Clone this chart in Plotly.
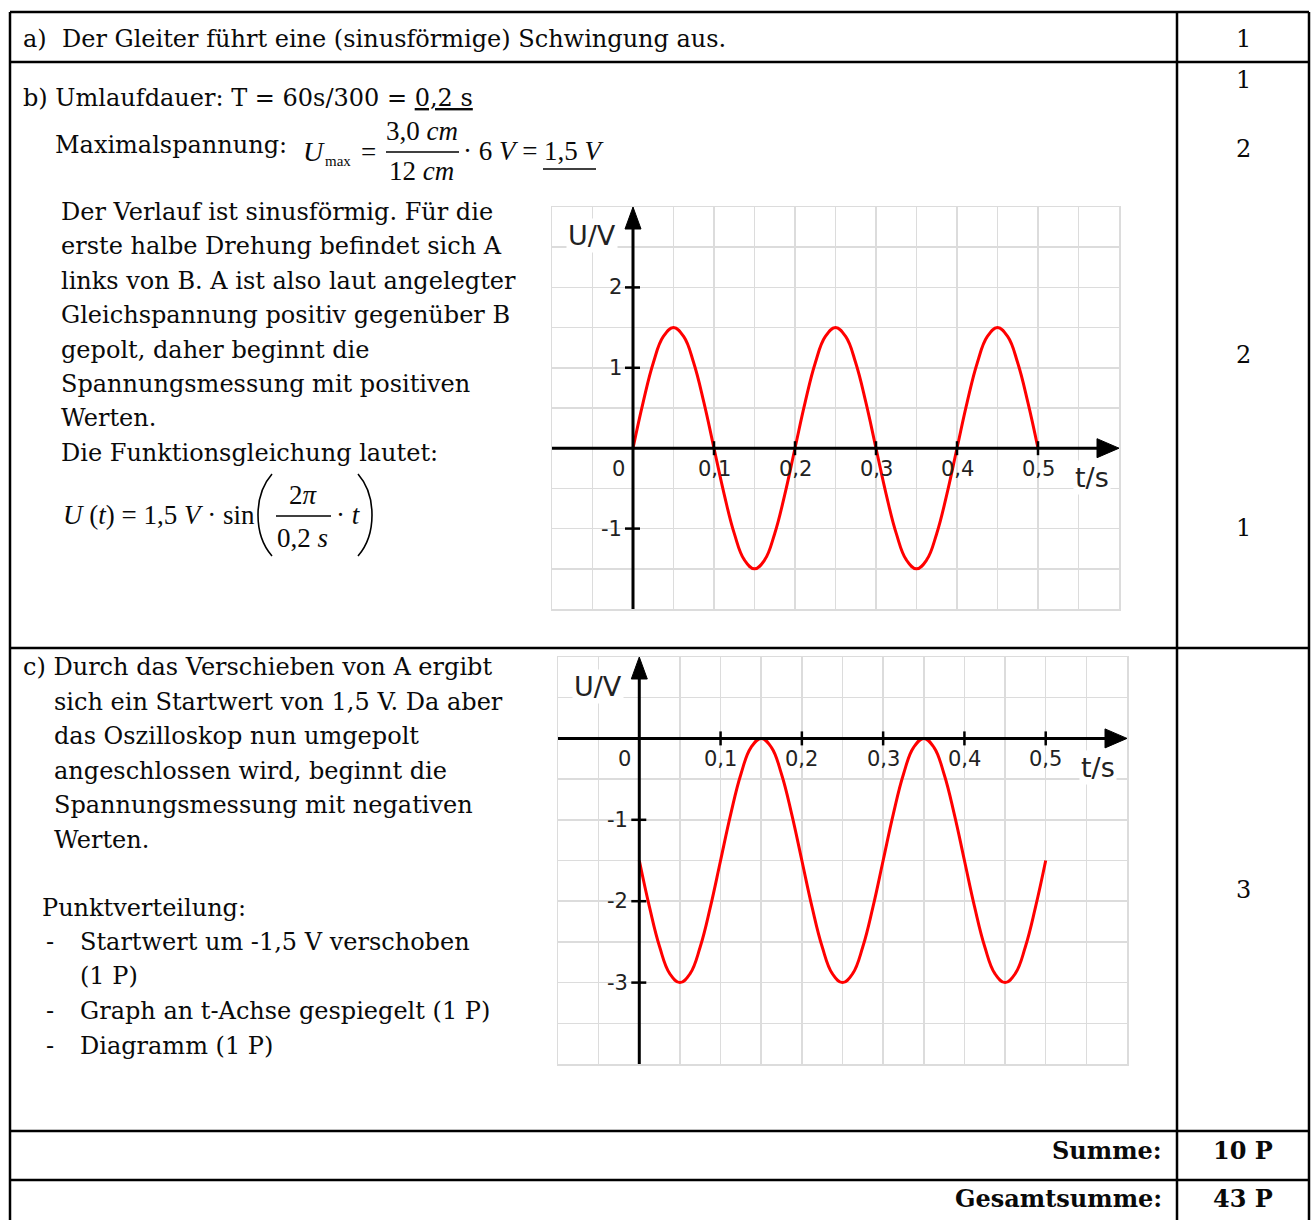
import plotly.graph_objects as go

W, H = 1314, 1220

# ---------------- data ----------------
t_vals = [0.0, 0.0125, 0.025, 0.0375, 0.05, 0.0625, 0.075, 0.0875, 0.1,
          0.1125, 0.125, 0.1375, 0.15, 0.1625, 0.175, 0.1875, 0.2,
          0.2125, 0.225, 0.2375, 0.25, 0.2625, 0.275, 0.2875, 0.3,
          0.3125, 0.325, 0.3375, 0.35, 0.3625, 0.375, 0.3875, 0.4,
          0.4125, 0.425, 0.4375, 0.45, 0.4625, 0.475, 0.4875, 0.5]
u_b = [0.0, 0.57, 1.06, 1.39, 1.5, 1.39, 1.06, 0.57, 0.0,
       -0.57, -1.06, -1.39, -1.5, -1.39, -1.06, -0.57, 0.0,
       0.57, 1.06, 1.39, 1.5, 1.39, 1.06, 0.57, 0.0,
       -0.57, -1.06, -1.39, -1.5, -1.39, -1.06, -0.57, 0.0,
       0.57, 1.06, 1.39, 1.5, 1.39, 1.06, 0.57, 0.0]
u_c = [-1.5, -2.07, -2.56, -2.89, -3.0, -2.89, -2.56, -2.07, -1.5,
       -0.93, -0.44, -0.11, 0.0, -0.11, -0.44, -0.93, -1.5,
       -2.07, -2.56, -2.89, -3.0, -2.89, -2.56, -2.07, -1.5,
       -0.93, -0.44, -0.11, 0.0, -0.11, -0.44, -0.93, -1.5,
       -2.07, -2.56, -2.89, -3.0, -2.89, -2.56, -2.07, -1.5]

x_ticks = [0.1, 0.2, 0.3, 0.4, 0.5]
x_tick_labels = ["0,1", "0,2", "0,3", "0,4", "0,5"]
y_ticks_b = [-1, 1, 2]
y_tick_labels_b = ["-1", "1", "2"]
y_ticks_c = [-3, -2, -1]
y_tick_labels_c = ["-3", "-2", "-1"]

points = ["1", "1", "2", "2", "1", "3"]
para_b = ["Der Verlauf ist sinusförmig. Für die",
          "erste halbe Drehung befindet sich A",
          "links von B. A ist also laut angelegter",
          "Gleichspannung positiv gegenüber B",
          "gepolt, daher beginnt die",
          "Spannungsmessung mit positiven",
          "Werten.",
          "Die Funktionsgleichung lautet:"]
para_c = ["sich ein Startwert von 1,5 V. Da aber",
          "das Oszilloskop nun umgepolt",
          "angeschlossen wird, beginnt die",
          "Spannungsmessung mit negativen",
          "Werten."]
bullets = ["Startwert um -1,5 V verschoben", "(1 P)",
           "Graph an t-Achse gespiegelt (1 P)", "Diagramm (1 P)"]

# ---------------- helpers ----------------
def px(x):
    return x / W

def py(y):
    return 1 - y / H

TEXT_FONT = "DejaVu Serif"
MATH_FONT = "Liberation Serif"
AX_FONT = "DejaVu Sans"

annotations = []
shapes = []

def txt(x, y, s, size=24, anchor="left", font=TEXT_FONT, color="#0a0a0a"):
    annotations.append(dict(xref="paper", yref="paper", x=px(x), y=py(y),
                            text=s, showarrow=False, xanchor=anchor,
                            yanchor="middle", borderpad=0,
                            font=dict(family=font, size=size, color=color)))

def pline(x0, y0, x1, y1, w=2.5, color="black"):
    shapes.append(dict(type="line", xref="paper", yref="paper",
                       x0=px(x0), y0=py(y0), x1=px(x1), y1=py(y1),
                       line=dict(color=color, width=w)))

def ppath(pts_str, w=1.6):
    shapes.append(dict(type="path", xref="paper", yref="paper", path=pts_str,
                       line=dict(color="black", width=w)))

# ---------------- table ----------------
TL, TR, TD = 10, 1309, 1177
pline(TL, 12, TR, 12)
pline(TL, 12, TL, 1222)
pline(TR, 12, TR, 1222)
pline(TD, 12, TD, 1222)
for yy in [62, 648, 1131, 1180]:
    pline(TL, yy, TR, yy)

# ---------------- right column points ----------------
for s, yy in zip(points, [39, 80, 149, 355, 528, 890]):
    txt(1243, yy, s, anchor="center")
txt(1243, 1150, "<b>10 P</b>", anchor="center")
txt(1243, 1198, "<b>43 P</b>", anchor="center")
txt(1163, 1150, "<b>Summe:</b>", anchor="right")
txt(1163, 1198, "<b>Gesamtsumme:</b>", anchor="right")

# ---------------- part a ----------------
txt(22, 39, "a)  Der Gleiter führt eine (sinusförmige) Schwingung aus.")

# ---------------- part b ----------------
txt(22, 98, "b) Umlaufdauer: T = 60s/300 = <u>0,2 s</u>")
txt(54, 145, "Maximalspannung:")
txt(302, 151, "<i>U</i>", size=28, font=MATH_FONT)
txt(324, 161, "max", size=15, font=MATH_FONT)
txt(360, 152, "=", size=27, font=MATH_FONT)
txt(422, 131, "3,0 <i>cm</i>", size=27, font=MATH_FONT, anchor="center")
pline(386, 152, 459, 152, w=1.4)
txt(421, 171, "12 <i>cm</i>", size=27, font=MATH_FONT, anchor="center")
txt(462, 151, "· 6 <i>V</i> =", size=27, font=MATH_FONT)
txt(543, 151, "1,5 <i>V</i>", size=27, font=MATH_FONT)
pline(543, 169, 596, 169, w=1.4)

for i, s in enumerate(para_b):
    txt(60, 212 + i * 34.4, s)

# function equation
txt(62, 515, "<i>U</i> (<i>t</i>) = 1,5 <i>V</i> · sin", size=27, font=MATH_FONT)
ppath(f"M {px(272)},{py(474)} Q {px(258)},{py(490)} {px(258)},{py(515)} "
      f"Q {px(258)},{py(540)} {px(272)},{py(556)}")
ppath(f"M {px(358)},{py(474)} Q {px(372)},{py(490)} {px(372)},{py(515)} "
      f"Q {px(372)},{py(540)} {px(358)},{py(556)}")
txt(303, 495, "2<i>π</i>", size=27, font=MATH_FONT, anchor="center")
pline(276, 516, 331, 516, w=1.4)
txt(302, 538, "0,2 <i>s</i>", size=27, font=MATH_FONT, anchor="center")
txt(335, 515, "· <i>t</i>", size=27, font=MATH_FONT)

# ---------------- part c ----------------
txt(22, 667, "c) Durch das Verschieben von A ergibt")
for i, s in enumerate(para_c):
    txt(53, 702 + i * 34.4, s)
txt(41, 908, "Punktverteilung:")
bullet_y = [942, 976, 1011, 1046]
for s, yy in zip(bullets, bullet_y):
    txt(79, yy, s)
for yy in [942, 1011, 1046]:
    txt(45, yy, "-")

# ---------------- charts ----------------
fig = go.Figure()
fig.add_trace(go.Scatter(x=t_vals, y=u_b, mode="lines", xaxis="x", yaxis="y",
                         line=dict(color="#ff0000", width=3, shape="spline",
                                   smoothing=1.2),
                         showlegend=False, hoverinfo="skip"))
fig.add_trace(go.Scatter(x=t_vals, y=u_c, mode="lines", xaxis="x2", yaxis="y2",
                         line=dict(color="#ff0000", width=3, shape="spline",
                                   smoothing=1.2),
                         showlegend=False, hoverinfo="skip"))

GRID = "#dcdcdc"
def xax(domain):
    return dict(domain=domain, range=[-0.1, 0.6], dtick=0.05, tick0=0,
                showgrid=True, gridcolor=GRID, gridwidth=1.5, zeroline=False,
                showticklabels=False, ticks="", showline=True, mirror=True,
                linecolor=GRID, linewidth=1.5, fixedrange=True)

def yax(domain, rng, anchor):
    return dict(domain=domain, range=rng, dtick=0.5, tick0=0,
                showgrid=True, gridcolor=GRID, gridwidth=1.5, zeroline=False,
                showticklabels=False, ticks="", showline=True, mirror=True,
                linecolor=GRID, linewidth=1.5, anchor=anchor, fixedrange=True)

charts = [
    ("x", "y", (552, 1119), (207, 609), [-2, 3], y_ticks_b, y_tick_labels_b),
    ("x2", "y2", (558, 1127), (657, 1064), [-4, 1], y_ticks_c, y_tick_labels_c),
]

layout_axes = {}
for k, (xr, yr, (xa, xb), (ya, yb), rng, yt, ytl) in enumerate(charts):
    suffix = "" if k == 0 else "2"
    layout_axes["xaxis" + suffix] = dict(xax([px(xa), px(xb)]), anchor=yr)
    layout_axes["yaxis" + suffix] = yax([py(yb), py(ya)], rng, xr)
    sx = (xb - xa) / 0.7
    sy = (yb - ya) / (rng[1] - rng[0])
    top = rng[1]
    bot = rng[0]
    ahx, ahw = 22 / sx, 9.5 / sy
    shapes.append(dict(type="line", xref=xr, yref=yr, x0=-0.1, y0=0,
                       x1=0.6 - ahx * 0.8, y1=0, line=dict(color="black", width=3)))
    shapes.append(dict(type="path", xref=xr, yref=yr,
                       path=f"M 0.6,0 L {0.6 - ahx},{ahw} L {0.6 - ahx},{-ahw} Z",
                       fillcolor="black", line=dict(color="black", width=1)))
    avh, avw = 22 / sy, 8 / sx
    shapes.append(dict(type="line", xref=xr, yref=yr, x0=0, y0=bot, x1=0,
                       y1=top - avh * 0.8, line=dict(color="black", width=3)))
    shapes.append(dict(type="path", xref=xr, yref=yr,
                       path=f"M 0,{top} L {avw},{top - avh} L {-avw},{top - avh} Z",
                       fillcolor="black", line=dict(color="black", width=1)))
    for xv in x_ticks:
        shapes.append(dict(type="line", xref=xr, yref=yr, x0=xv, x1=xv,
                           y0=-7 / sy, y1=7 / sy, line=dict(color="black", width=2.5)))
    for yv in yt:
        shapes.append(dict(type="line", xref=xr, yref=yr, x0=-8 / sx, x1=7 / sx,
                           y0=yv, y1=yv, line=dict(color="black", width=2.5)))
    for xv, lab in zip(x_ticks, x_tick_labels):
        annotations.append(dict(xref=xr, yref=yr, x=xv, y=-20.5 / sy, text=lab,
                                showarrow=False, xanchor="center", yanchor="middle",
                                font=dict(family=AX_FONT, size=21, color="#222")))
    for yv, lab in zip(yt, ytl):
        annotations.append(dict(xref=xr, yref=yr, x=-9 / sx, y=yv, text=lab,
                                showarrow=False, xanchor="right", yanchor="middle",
                                font=dict(family=AX_FONT, size=21, color="#222")))
    annotations.append(dict(xref=xr, yref=yr, x=-15 / sx, y=-20.5 / sy, text="0",
                            showarrow=False, xanchor="center", yanchor="middle",
                            font=dict(family=AX_FONT, size=21, color="#222")))
    annotations.append(dict(xref=xr, yref=yr, x=-41 / sx, y=213 / sy if k == 0 else 52 / sy,
                            text="U/V", showarrow=False, xanchor="center",
                            yanchor="middle", bgcolor="white", borderpad=1,
                            font=dict(family=AX_FONT, size=27, color="#222")))
    annotations.append(dict(xref=xr, yref=yr, x=459 / sx, y=-29 / sy,
                            text="t/s", showarrow=False, xanchor="center",
                            yanchor="middle", bgcolor="white", borderpad=1,
                            font=dict(family=AX_FONT, size=27, color="#222")))

fig.update_layout(
    width=W, height=H, autosize=False,
    margin=dict(l=0, r=0, t=0, b=0),
    paper_bgcolor="white", plot_bgcolor="white",
    shapes=shapes, annotations=annotations,
    **layout_axes,
)

fig.write_html("out.html",
               config={"displayModeBar": False, "staticPlot": True},
               post_script="document.body.style.margin='0px';"
                           "document.body.style.overflow='hidden';")
